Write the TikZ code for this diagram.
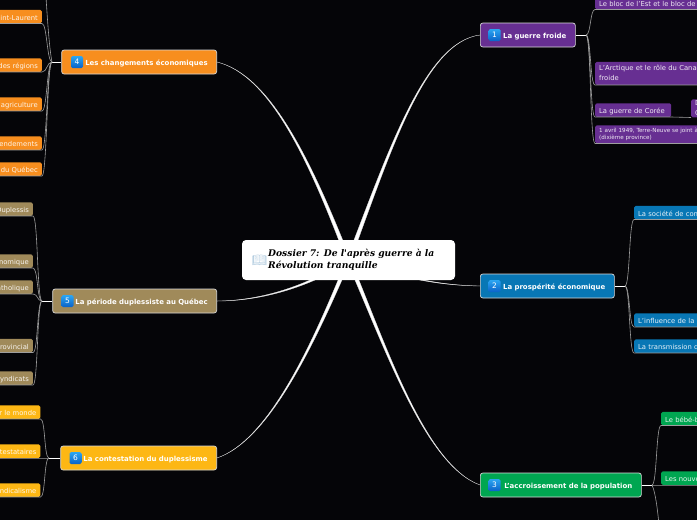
\documentclass[tikz,border=0pt]{standalone}
\usepackage{fontspec}
\setmainfont{DejaVu Sans}
\newfontfamily\titlefont{DejaVu Serif}
\newfontfamily\emojifont{Noto Emoji}
\usepackage{xcolor}
\usetikzlibrary{calc, backgrounds}
\definecolor{fondnoir}{HTML}{050508}
\definecolor{violet1}{HTML}{672F92}
\definecolor{bleu2}{HTML}{0877B5}
\definecolor{vert3}{HTML}{00A651}
\definecolor{orange4}{HTML}{F78E1E}
\definecolor{brun5}{HTML}{A08A5A}
\definecolor{jaune6}{HTML}{FDB714}
\definecolor{badgehaut}{HTML}{2BA6F2}
\definecolor{badgebas}{HTML}{0A62C8}
\definecolor{livrebleu}{HTML}{A9C6DC}
\tikzset{
  uneligne/.style={text height=8.5, text depth=1.5},
  mainnode/.style={fill=#1, draw=white!85!black, line width=0.7pt, rounded corners=2.5pt,
    minimum height=24, inner xsep=9, inner ysep=0, text=white, align=right, uneligne,
    font=\fontsize{6.95}{9}\selectfont\bfseries},
  numbadge/.style={rounded corners=1.5pt, top color=badgehaut, bottom color=badgebas,
    minimum size=12, inner sep=0, text=white, font=\fontsize{7.5}{9}\selectfont},
  leafL/.style={fill=#1, rounded corners=1.5pt, anchor=south east, text width=80, align=right,
    minimum height=13.5, inner xsep=4, inner ysep=0, text=white!90!#1, uneligne, font=\fontsize{6.8}{9}\selectfont},
  leafR/.style={fill=#1, rounded corners=1.5pt, anchor=south west, text width=170, align=left,
    minimum height=13.5, inner xsep=4, inner ysep=0, text=white!90!#1, font=\fontsize{6.8}{10}\selectfont},
  leafline/.style={draw=white!62!black, line width=0.6pt},
  stub/.style={draw=white, line width=1pt},
  branchfill/.style={fill=white, draw=white!85!black, line width=0.3pt},
}
% branche effilee : cible, controle 1, controle 2, demi-largeur au centre
\newcommand{\branche}[4]{
  \path[branchfill] ($(cen.center)+(#4)$) .. controls ($(#2)+0.5*(#4)$) and ($(#3)+0.15*(#4)$) .. (#1)
    .. controls ($(#3)-0.15*(#4)$) and ($(#2)-0.5*(#4)$) .. ($(cen.center)-(#4)$) -- cycle;
}
\begin{document}
\begin{tikzpicture}[x=1pt, y=-1pt]
  \useasboundingbox (0,0) rectangle (697,520);
  % Noeud central
  \node[fill=white, rounded corners=4pt, minimum width=213, minimum height=40, inner sep=0] (cen) at (348.5,260) {};
  \node[anchor=west, inner sep=0, align=left, text=black, font=\titlefont\fontsize{9.15}{12}\selectfont\bfseries\itshape] (titre) at (268,259.5)
    {Dossier 7: De l'après guerre à la\\Révolution tranquille};
  \node[anchor=center, inner sep=0, text=livrebleu, font=\emojifont\fontsize{12}{12}\selectfont] (livre) at (259.5,260) {\symbol{"1F4D6}};
  % Noeuds principaux
  \node[mainnode=violet1, anchor=west, text width=77] (n1) at (480,35) {La guerre froide};
  \node[mainnode=bleu2, anchor=west, text width=116] (n2) at (480,286) {La prospérité économique};
  \node[mainnode=vert3, anchor=west, text width=143] (n3) at (480,485) {L'accroissement de la population};
  \node[mainnode=orange4, anchor=east, text width=137] (n4) at (217,62) {Les changements économiques};
  \node[mainnode=brun5, anchor=east, text width=146] (n5) at (217,301) {La période duplessiste au Québec};
  \node[mainnode=jaune6, anchor=east, text width=138] (n6) at (217,458) {La contestation du duplessisme};
  % Pastilles
  \node[numbadge] (b1) at (494.5,35) {1};
  \node[numbadge] (b2) at (494.5,286) {2};
  \node[numbadge] (b3) at (494.5,485) {3};
  \node[numbadge] (b4) at (77,62) {4};
  \node[numbadge] (b5) at (67.5,301) {5};
  \node[numbadge] (b6) at (75.5,458) {6};
  % Branches du centre
  \begin{scope}[on background layer]
    \fill[fondnoir] (0,0) rectangle (697,520);
    \branche{n1.west}{390,150}{425,42}{2.2,0}
    \branche{n2.west}{385,270}{420,285}{0,1.5}
    \branche{n3.west}{385,345}{425,465}{2.2,0}
    \branche{n4.east}{310,160}{270,75}{2.2,0}
    \branche{n5.east}{320,280}{270,301}{0,2}
    \branche{n6.east}{315,340}{270,440}{2.2,0}
  \end{scope}
  % Feuilles 1
  \node[leafR=violet1, uneligne] (v1) at (595,9.5) {Le bloc de l'Est et le bloc de l'Ouest};
  \node[leafR=violet1, minimum height=23] (v2) at (595,85) {L'Arctique et le rôle du Canada\\froide};
  \node[leafR=violet1, uneligne, text width=68] (v3) at (595,117) {La guerre de Corée};
  \node[leafR=violet1, minimum height=18, text width=30] (v3a) at (691,117.5) {D\\C};
  \node[leafR=violet1, minimum height=18, font=\fontsize{5.6}{7.5}\selectfont] (v4) at (595,143.5) {1 avril 1949, Terre-Neuve se joint à\\(dixième province)};
  % Feuilles 2
  \node[leafR=bleu2, uneligne] (c1) at (634,219.5) {La société de consommation};
  \node[leafR=bleu2, uneligne] (c2) at (634,327) {L'influence de la};
  \node[leafR=bleu2, uneligne] (c3) at (634,353) {La transmission de};
  % Feuilles 3
  \node[leafR=vert3, uneligne] (g1) at (661,425.5) {Le bébé-boom};
  \node[leafR=vert3, uneligne] (g2) at (661,485) {Les nouveaux};
  \coordinate (g3) at (660,540);
  % Feuilles 4
  \coordinate (o0) at (44,-30);
  \node[leafL=orange4] (o1) at (42,23.5) {Saint-Laurent};
  \node[leafL=orange4] (o2) at (42,72) {des régions};
  \node[leafL=orange4] (o3) at (42,111) {l'agriculture};
  \node[leafL=orange4] (o4) at (42,150) {rendements};
  \node[leafL=orange4] (o5) at (42,176) {du Québec};
  % Feuilles 5
  \node[leafL=brun5] (t1) at (33,216) {Duplessis};
  \node[leafL=brun5] (t2) at (33,268) {économique};
  \node[leafL=brun5] (t3) at (33,294) {catholique};
  \node[leafL=brun5] (t4) at (33,352.5) {provincial};
  \node[leafL=brun5] (t5) at (33,385) {syndicats};
  % Feuilles 6
  \node[leafL=jaune6] (j1) at (40.5,419) {sur le monde};
  \node[leafL=jaune6] (j2) at (40.5,458) {contestataires};
  \node[leafL=jaune6] (j3) at (40.5,497) {syndicalisme};
  % Liens vers les feuilles
  \coordinate (hub1) at (586,35);
  \coordinate (hub2) at (625,286);
  \coordinate (hub3) at (652,485);
  \coordinate (hub4) at (52,62);
  \coordinate (hub5) at (42,301);
  \coordinate (hub6) at (49,458);
  \draw[stub] (n1.east) -- (hub1);
  \draw[stub] (n2.east) -- (hub2);
  \draw[stub] (n3.east) -- (hub3);
  \draw[stub] (n4.west) -- (hub4);
  \draw[stub] (n5.west) -- (hub5);
  \draw[stub] (n6.west) -- (hub6);
  \foreach \hub/\liste in {hub1/{v1,v2,v3,v4}, hub2/{c1,c2,c3}, hub3/{g1,g2}}
    \foreach \leaf in \liste
      \draw[leafline] (\hub) .. controls +(5,0) and +(-5,0) .. (\leaf.south west) -- (\leaf.south east);
  \foreach \hub/\liste in {hub4/{o1,o2,o3,o4,o5}, hub5/{t1,t2,t3,t4,t5}, hub6/{j1,j2,j3}}
    \foreach \leaf in \liste
      \draw[leafline] (\hub) .. controls +(-5,0) and +(5,0) .. (\leaf.south east) -- (\leaf.south west);
  \draw[leafline] (v3.south east) -- (v3a.south west);
  \draw[leafline] (hub3) .. controls +(4,8) and +(-1,-20) .. (g3);
  \draw[leafline] (hub4) .. controls +(-4,-20) and +(2,20) .. (o0);
\end{tikzpicture}
\end{document}
